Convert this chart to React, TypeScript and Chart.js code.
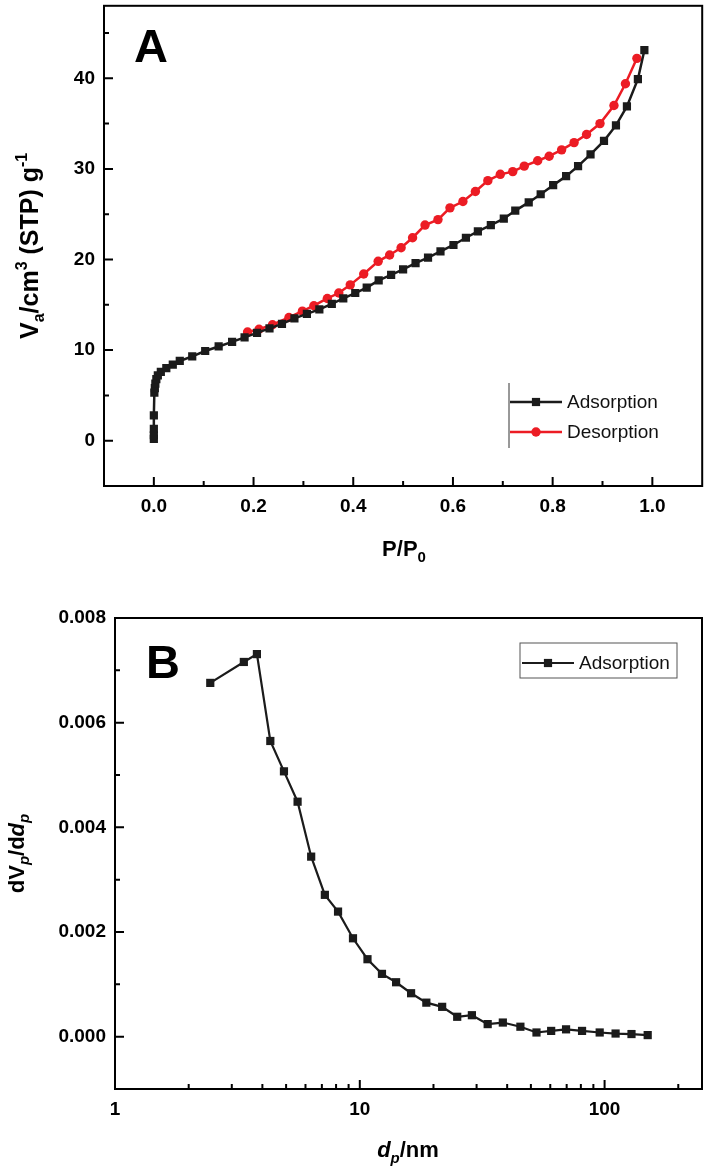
import React, { useEffect, useRef } from "react";
import { Chart, registerables } from "chart.js";

Chart.register(...registerables);

// ---------- Panel A data (N2 isotherm) ----------
const adsorptionP = [0.0, 0.0, 0.0, 0.0, 0.001, 0.002, 0.003, 0.005, 0.008, 0.014, 0.025, 0.038, 0.052, 0.077, 0.103, 0.13, 0.157, 0.182, 0.207, 0.232, 0.257, 0.282, 0.307, 0.332, 0.357, 0.38, 0.404, 0.427, 0.451, 0.476, 0.5, 0.525, 0.55, 0.575, 0.601, 0.626, 0.65, 0.676, 0.702, 0.725, 0.752, 0.776, 0.801, 0.827, 0.851, 0.876, 0.903, 0.927, 0.949, 0.971, 0.984];
const adsorptionV = [0.2, 0.6, 1.3, 2.8, 5.3, 5.8, 6.3, 6.8, 7.2, 7.6, 8.0, 8.4, 8.8, 9.3, 9.9, 10.4, 10.9, 11.4, 11.9, 12.4, 12.9, 13.5, 14.0, 14.5, 15.1, 15.7, 16.3, 16.9, 17.7, 18.3, 18.9, 19.6, 20.2, 20.9, 21.6, 22.4, 23.1, 23.8, 24.5, 25.4, 26.3, 27.2, 28.2, 29.2, 30.3, 31.6, 33.1, 34.8, 36.9, 39.9, 43.1];
const desorptionP = [0.969, 0.946, 0.923, 0.895, 0.868, 0.843, 0.818, 0.793, 0.77, 0.743, 0.72, 0.695, 0.67, 0.645, 0.62, 0.594, 0.57, 0.544, 0.519, 0.496, 0.473, 0.45, 0.421, 0.394, 0.371, 0.348, 0.321, 0.298, 0.271, 0.238, 0.211, 0.188];
const desorptionV = [42.2, 39.4, 37.0, 35.0, 33.8, 32.9, 32.1, 31.4, 30.9, 30.3, 29.7, 29.4, 28.7, 27.5, 26.4, 25.7, 24.4, 23.8, 22.4, 21.3, 20.5, 19.8, 18.4, 17.2, 16.3, 15.7, 14.9, 14.3, 13.6, 12.8, 12.3, 12.0];
const aXMajor = [0, 0.2, 0.4, 0.6, 0.8, 1.0];
const aXMinor = [0.1, 0.3, 0.5, 0.7, 0.9];
const aYMajor = [0, 10, 20, 30, 40];
const aYMinor = [5, 15, 25, 35, 45];

// ---------- Panel B data (pore size distribution) ----------
const poreD = [2.45, 3.36, 3.8, 4.31, 4.9, 5.57, 6.33, 7.2, 8.15, 9.38, 10.75, 12.32, 14.07, 16.2, 18.7, 21.7, 25.0, 28.7, 33.3, 38.4, 45.3, 52.7, 60.5, 69.6, 80.9, 95.5, 110.9, 128.8, 150];
const poreDV = [0.00676, 0.00716, 0.00731, 0.00565, 0.00507, 0.00449, 0.00344, 0.00271, 0.00239, 0.00188, 0.00148, 0.0012, 0.00104, 0.00083, 0.00065, 0.00057, 0.00038, 0.00041, 0.00024, 0.00027, 0.00019, 0.00008, 0.00011, 0.00014, 0.00011, 0.00008, 0.00006, 0.00005, 0.00003];
const bXMajor = [1, 10, 100];
const bXMinor = [2, 3, 4, 5, 6, 7, 8, 9, 20, 30, 40, 50, 60, 70, 80, 90, 200];
const bYMajor = [0, 0.002, 0.004, 0.006, 0.008];
const bYMinor = [0.001, 0.003, 0.005, 0.007];

const BLACK = "#1b1b1b";
const RED = "#ec1c24";
const FAM = '"Liberation Sans", Arial, sans-serif';

type Seg = { t: string; size: number; italic?: boolean; shift?: number };

function segFont(s: Seg) {
  return `${s.italic ? "italic " : ""}bold ${s.size}px ${FAM}`;
}

function drawRich(ctx: CanvasRenderingContext2D, segs: Seg[], x: number, y: number, rotate: boolean) {
  ctx.save();
  ctx.translate(x, y);
  if (rotate) ctx.rotate(-Math.PI / 2);
  ctx.textBaseline = "alphabetic";
  ctx.textAlign = "left";
  ctx.fillStyle = "#000";
  let total = 0;
  const widths = segs.map((s) => {
    ctx.font = segFont(s);
    const w = ctx.measureText(s.t).width;
    total += w;
    return w;
  });
  let cx = -total / 2;
  segs.forEach((s, i) => {
    ctx.font = segFont(s);
    const dy = typeof s.shift === "number" ? s.shift : 0;
    ctx.fillText(s.t, cx, dy);
    cx += widths[i];
  });
  ctx.restore();
}

function drawMarker(ctx: CanvasRenderingContext2D, style: string, x: number, y: number, r: number, color: string) {
  ctx.save();
  ctx.fillStyle = color;
  ctx.beginPath();
  if (style === "rect") {
    const s = Math.SQRT1_2 * r;
    ctx.rect(x - s, y - s, 2 * s, 2 * s);
  } else {
    ctx.arc(x, y, r, 0, Math.PI * 2);
  }
  ctx.fill();
  ctx.restore();
}

type PanelOpts = {
  xMajor: number[];
  xMinor: number[];
  yMajor: number[];
  yMinor: number[];
  letter: string;
  letterX: number;
  letterY: number;
  xTitle: Seg[];
  xTitlePos: [number, number];
  yTitle: Seg[];
  yTitleX: number;
  legend: { x0: number; x1: number; rows: number[]; vline?: [number, number, number]; box?: [number, number, number, number] };
};

function makeFramePlugin(opts: PanelOpts) {
  return {
    id: "framePlugin",
    afterDraw(chart: any) {
      const ctx: CanvasRenderingContext2D = chart.ctx;
      const { left, right, top, bottom } = chart.chartArea;
      const xs = chart.scales.x;
      const ys = chart.scales.y;
      ctx.save();
      ctx.strokeStyle = "#000";
      ctx.lineWidth = 2;
      ctx.strokeRect(left, top, right - left, bottom - top);
      ctx.beginPath();
      opts.xMajor.forEach((v) => {
        const p = xs.getPixelForValue(v);
        ctx.moveTo(p, bottom);
        ctx.lineTo(p, bottom - 9);
      });
      opts.xMinor.forEach((v) => {
        const p = xs.getPixelForValue(v);
        ctx.moveTo(p, bottom);
        ctx.lineTo(p, bottom - 5);
      });
      opts.yMajor.forEach((v) => {
        const p = ys.getPixelForValue(v);
        ctx.moveTo(left, p);
        ctx.lineTo(left + 9, p);
      });
      opts.yMinor.forEach((v) => {
        const p = ys.getPixelForValue(v);
        ctx.moveTo(left, p);
        ctx.lineTo(left + 5, p);
      });
      ctx.stroke();

      // panel letter
      ctx.fillStyle = "#000";
      ctx.font = `bold 47px ${FAM}`;
      ctx.textAlign = "left";
      ctx.textBaseline = "alphabetic";
      ctx.fillText(opts.letter, opts.letterX, opts.letterY);

      // axis titles
      drawRich(ctx, opts.xTitle, opts.xTitlePos[0], opts.xTitlePos[1], false);
      drawRich(ctx, opts.yTitle, opts.yTitleX, (top + bottom) / 2, true);

      // legend
      const lg = opts.legend;
      ctx.lineWidth = 1;
      ctx.strokeStyle = "#333";
      if (lg.vline) {
        ctx.beginPath();
        ctx.moveTo(lg.vline[0], lg.vline[1]);
        ctx.lineTo(lg.vline[0], lg.vline[2]);
        ctx.stroke();
      }
      if (lg.box) {
        ctx.strokeStyle = "#555";
        ctx.strokeRect(lg.box[0], lg.box[1], lg.box[2], lg.box[3]);
      }
      chart.data.datasets.forEach((ds: any, i: number) => {
        const y = lg.rows[i];
        ctx.strokeStyle = ds.borderColor;
        ctx.lineWidth = ds.borderWidth;
        ctx.beginPath();
        ctx.moveTo(lg.x0, y);
        ctx.lineTo(lg.x1, y);
        ctx.stroke();
        drawMarker(ctx, ds.pointStyle, (lg.x0 + lg.x1) / 2, y, ds.pointRadius, ds.pointBackgroundColor);
        ctx.fillStyle = "#111";
        ctx.font = `19px ${FAM}`;
        ctx.textBaseline = "middle";
        ctx.textAlign = "left";
        ctx.fillText(ds.label, lg.x1 + 5, y + 1);
      });
      ctx.restore();
    },
  };
}

const tickFont = { family: FAM, size: 19, weight: "bold" as const };

function makeAxis(
  type: string,
  min: number,
  max: number,
  major: number[],
  fmt: (v: number) => string,
  size: number,
  horizontal: boolean
) {
  return {
    type,
    min,
    max,
    afterBuildTicks: (s: any) => {
      s.ticks = major.map((v) => ({ value: v }));
    },
    afterFit: (s: any) => {
      if (horizontal) {
        s.height = size;
        s.paddingLeft = 0;
        s.paddingRight = 0;
      } else {
        s.width = size;
        s.paddingTop = 0;
        s.paddingBottom = 0;
      }
    },
    ticks: {
      callback: (v: any) => fmt(Number(v)),
      font: tickFont,
      color: "#000",
      padding: 9,
      autoSkip: false,
      maxRotation: 0,
      minRotation: 0,
    },
    grid: { display: false, drawTicks: false },
    border: { display: false },
    title: { display: false },
  };
}

function PanelA() {
  const ref = useRef<HTMLCanvasElement>(null);
  useEffect(() => {
    if (!ref.current) return;
    const chart = new Chart(ref.current, {
      type: "scatter",
      data: {
        datasets: [
          {
            label: "Adsorption",
            data: adsorptionP.map((p, i) => ({ x: p, y: adsorptionV[i] })),
            showLine: true,
            borderColor: BLACK,
            backgroundColor: BLACK,
            pointBackgroundColor: BLACK,
            pointBorderWidth: 0,
            borderWidth: 2.5,
            pointStyle: "rect",
            pointRadius: 5.8,
            tension: 0,
          },
          {
            label: "Desorption",
            data: desorptionP.map((p, i) => ({ x: p, y: desorptionV[i] })),
            showLine: true,
            borderColor: RED,
            backgroundColor: RED,
            pointBackgroundColor: RED,
            pointBorderWidth: 0,
            borderWidth: 2.5,
            pointStyle: "circle",
            pointRadius: 4.7,
            tension: 0,
          },
        ],
      },
      options: {
        animation: false,
        responsive: false,
        maintainAspectRatio: false,
        layout: { padding: { left: 0, right: 4, top: 3, bottom: 0 } },
        plugins: {
          legend: { display: false },
          tooltip: { enabled: false },
        },
        scales: {
          x: makeAxis("linear", -0.1, 1.1, aXMajor, (v) => v.toFixed(1), 89, true),
          y: makeAxis("linear", -5, 48, aYMajor, (v) => String(v), 104, false),
        } as any,
      },
      plugins: [
        makeFramePlugin({
          xMajor: aXMajor,
          xMinor: aXMinor,
          yMajor: aYMajor,
          yMinor: aYMinor,
          letter: "A",
          letterX: 134,
          letterY: 62,
          xTitle: [
            { t: "P/P", size: 22 },
            { t: "0", size: 15, shift: 6 },
          ],
          xTitlePos: [404, 556],
          yTitle: [
            { t: "V", size: 25 },
            { t: "a", size: 16, shift: 6 },
            { t: "/cm", size: 25 },
            { t: "3", size: 16, shift: -11 },
            { t: " (STP) g", size: 25 },
            { t: "-1", size: 16, shift: -11 },
          ],
          yTitleX: 38,
          legend: { x0: 510, x1: 562, rows: [402, 432], vline: [509, 383, 448] },
        }) as any,
      ],
    });
    return () => chart.destroy();
  }, []);
  return (
    <canvas
      ref={ref}
      width={708}
      height={575}
      style={{ position: "absolute", left: 0, top: 0, width: 708, height: 575 }}
    />
  );
}

function PanelB() {
  const ref = useRef<HTMLCanvasElement>(null);
  useEffect(() => {
    if (!ref.current) return;
    const chart = new Chart(ref.current, {
      type: "scatter",
      data: {
        datasets: [
          {
            label: "Adsorption",
            data: poreD.map((d, i) => ({ x: d, y: poreDV[i] })),
            showLine: true,
            borderColor: BLACK,
            backgroundColor: BLACK,
            pointBackgroundColor: BLACK,
            pointBorderWidth: 0,
            borderWidth: 2.2,
            pointStyle: "rect",
            pointRadius: 5.8,
            tension: 0,
          },
        ],
      },
      options: {
        animation: false,
        responsive: false,
        maintainAspectRatio: false,
        layout: { padding: { left: 0, right: 6, top: 43, bottom: 0 } },
        plugins: {
          legend: { display: false },
          tooltip: { enabled: false },
        },
        scales: {
          x: makeAxis("logarithmic", 1, 250, bXMajor, (v) => String(v), 82, true),
          y: makeAxis("linear", -0.001, 0.008, bYMajor, (v) => v.toFixed(3), 115, false),
        } as any,
      },
      plugins: [
        makeFramePlugin({
          xMajor: bXMajor,
          xMinor: bXMinor,
          yMajor: bYMajor,
          yMinor: bYMinor,
          letter: "B",
          letterX: 146,
          letterY: 103,
          xTitle: [
            { t: "d", size: 22, italic: true },
            { t: "p", size: 15, italic: true, shift: 6 },
            { t: "/nm", size: 22 },
          ],
          xTitlePos: [408, 582],
          yTitle: [
            { t: "dV", size: 22 },
            { t: "p", size: 15, italic: true, shift: 5 },
            { t: "/d", size: 22 },
            { t: "d", size: 22, italic: true },
            { t: "p", size: 15, italic: true, shift: 5 },
          ],
          yTitleX: 24,
          legend: { x0: 522, x1: 574, rows: [88], box: [520, 68, 157, 35] },
        }) as any,
      ],
    });
    return () => chart.destroy();
  }, []);
  return (
    <canvas
      ref={ref}
      width={708}
      height={596}
      style={{ position: "absolute", left: 0, top: 575, width: 708, height: 596 }}
    />
  );
}

export default function App() {
  return (
    <div
      style={{
        position: "absolute",
        left: 0,
        top: 0,
        width: 708,
        height: 1171,
        background: "#fff",
        overflow: "hidden",
      }}
    >
      <PanelA />
      <PanelB />
    </div>
  );
}
